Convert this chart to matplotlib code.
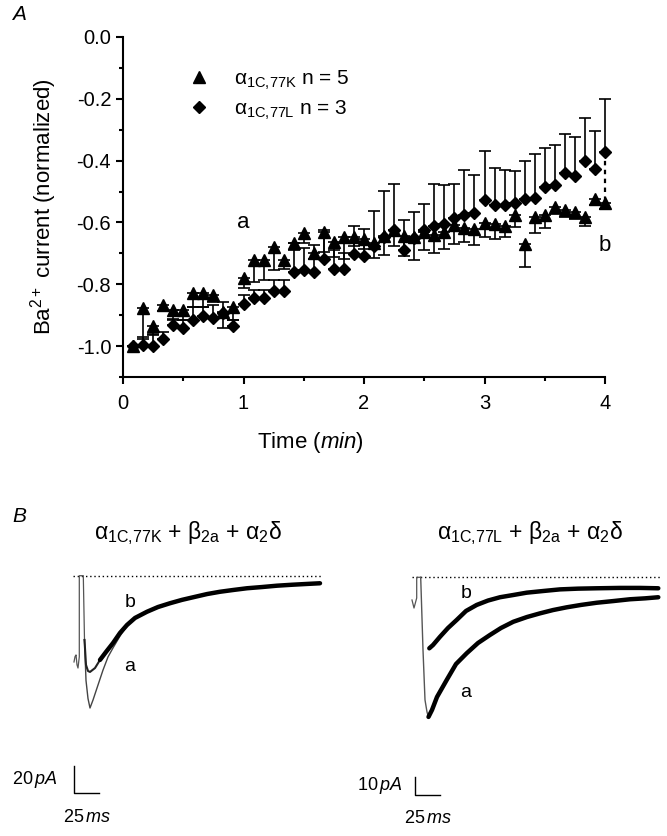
import numpy as np
import matplotlib
matplotlib.use("Agg")
import matplotlib.pyplot as plt
from matplotlib.ticker import MultipleLocator
from matplotlib.lines import Line2D

plt.rcParams['font.family'] = ['Liberation Sans', 'DejaVu Sans']
plt.rcParams['mathtext.fontset'] = 'custom'
plt.rcParams['mathtext.rm'] = 'Liberation Sans'
plt.rcParams['mathtext.it'] = 'Liberation Sans:italic'
plt.rcParams['mathtext.bf'] = 'Liberation Sans:bold'
plt.rcParams['mathtext.default'] = 'regular'

# ---------------- Panel A data ----------------
time_min = [k / 12 for k in range(1, 49)]
cur_77L = [-1.0, -0.997, -1.0, -0.978, -0.932, -0.94, -0.914, -0.903, -0.91, -0.894,
           -0.935, -0.864, -0.846, -0.846, -0.821, -0.821, -0.759, -0.754, -0.759, -0.719,
           -0.749, -0.749, -0.702, -0.707, -0.676, -0.646, -0.624, -0.69, -0.649, -0.625,
           -0.61, -0.605, -0.585, -0.575, -0.571, -0.526, -0.544, -0.544, -0.536, -0.525,
           -0.522, -0.484, -0.479, -0.441, -0.45, -0.40, -0.428, -0.371]
err_77L = [0.0, 0.025, 0.04, 0.022, 0.02, 0.025, 0.04, 0.028, 0.043, 0.038,
           0.02, 0.03, 0.027, 0.027, 0.035, 0.035, 0.092, 0.07, 0.087, 0.095,
           0.06, 0.05, 0.09, 0.086, 0.114, 0.149, 0.149, 0.097, 0.084, 0.084,
           0.133, 0.126, 0.108, 0.146, 0.124, 0.157, 0.12, 0.115, 0.103, 0.125,
           0.144, 0.124, 0.13, 0.127, 0.127, 0.137, 0.125, 0.17]
cur_77K = [-1.0, -0.878, -0.935, -0.867, -0.884, -0.884, -0.827, -0.827, -0.835, -0.89,
           -0.873, -0.781, -0.722, -0.722, -0.679, -0.722, -0.668, -0.633, -0.698, -0.63,
           -0.662, -0.648, -0.646, -0.655, -0.668, -0.645, -0.624, -0.644, -0.648, -0.63,
           -0.641, -0.63, -0.608, -0.619, -0.622, -0.601, -0.605, -0.612, -0.576, -0.67,
           -0.581, -0.576, -0.551, -0.56, -0.565, -0.581, -0.525, -0.538]
err_77K = [0.0, 0.1, 0.03, 0.02, 0.03, 0.03, 0.045, 0.047, 0.022, 0.05,
           0.043, 0.03, 0.07, 0.065, 0.075, 0.03, 0.02, 0.035, 0.02, 0.065,
           0.05, 0.07, 0.03, 0.03, 0.046, 0.06, 0.052, 0.065, 0.075, 0.06,
           0.059, 0.057, 0.061, 0.043, 0.051, 0.047, 0.047, 0.036, 0.04, 0.073,
           0.052, 0.043, 0.022, 0.022, 0.025, 0.032, 0.018, 0.02]
label_77K = r'$\alpha_{\mathrm{1C{,}77K}}$ n = 5'
label_77L = r'$\alpha_{\mathrm{1C{,}77L}}$ n = 3'

# ---------------- Panel B data (time in ms, current in pA) ----------------
L_trans_t = [1, 2, 3, 4, 5, 6.3, 6.3, 10.3, 11.5]
L_trans_i = [-63.9, -60, -58.7, -66, -68.4, -60, 0, 0, -47.6]
L_a_t = [11.5, 13, 15, 17, 20, 24, 30, 35, 40, 47, 54, 62]
L_a_i = [-47.6, -77.6, -91, -98, -92.1, -83.2, -69.9, -60.2, -53.5, -44.7, -37.3, -31.3]
L_b_t = [11.5, 13, 15, 17, 22, 27, 33, 40, 47, 54, 62, 74, 85, 97, 109, 120, 134, 147,
         160, 174, 189, 204, 219, 234, 247]
L_b_i = [-47.6, -66.1, -70.6, -71.3, -68.4, -62.4, -56.5, -49.9, -42.4, -36.5, -31.3,
         -26.7, -23.2, -20.4, -17.9, -16, -13.6, -11.9, -10.6, -9.3, -8.4, -7.4, -6.7,
         -6.1, -5.6]
L_base_t = [0, 250]

R_trans_t = [0, 2, 4.7, 4.7, 8.7]
R_trans_i = [-12.4, -16.8, -11.3, 0, 0]
R_a_t = [8.7, 11, 13, 15, 16.5, 20, 25, 34.7, 44, 54.7, 66, 78, 89, 101.3, 115, 128, 141,
         154.7, 169, 184.7, 201, 218, 233, 246.3]
R_a_i = [0, -39.7, -67, -73.6, -76.3, -72.5, -65.4, -56.1, -47.4, -41.5, -35.9, -31.5,
         -27.7, -24.3, -21.7, -19.7, -17.9, -16.4, -15.1, -13.9, -13, -12, -11.5, -10.9]
R_b_t = [8.7, 12, 14, 17.3, 21, 28, 36, 44.7, 54, 64.7, 76, 88, 101, 114.7, 131, 148, 166,
         184.7, 208, 228, 246.3]
R_b_i = [0, -25, -37, -38.8, -37, -32.5, -27.7, -23.3, -18.4, -15.1, -12.7, -10.9, -9.7,
         -8.4, -7.5, -6.6, -6.2, -6, -5.8, -5.8, -6]
R_base_t = [0, 248]

title_L = r'$\alpha_{\mathrm{1C{,}77K}}$ + $\beta_{\mathrm{2a}}$ + $\alpha_{\mathrm{2}}\delta$'
title_R = r'$\alpha_{\mathrm{1C{,}77L}}$ + $\beta_{\mathrm{2a}}$ + $\alpha_{\mathrm{2}}\delta$'

W, H = 667, 836
fig = plt.figure(figsize=(W / 100, H / 100), dpi=100)


def px_axes(x0, y0, x1, y1):
    return fig.add_axes([x0 / W, 1 - y1 / H, (x1 - x0) / W, (y1 - y0) / H])


# ---------------- Panel A ----------------
ax = px_axes(123, 37, 605, 377)
ax.set_xlim(0, 4)
ax.set_ylim(-1.1, 0.0)
for s in ['top', 'right']:
    ax.spines[s].set_visible(False)
for s in ['left', 'bottom']:
    ax.spines[s].set_linewidth(1.5)

zeros = [0.0] * len(time_min)
ax.errorbar(time_min, cur_77K, yerr=[err_77K, zeros], fmt='^', color='black', ms=8,
            capsize=4.5, elinewidth=1.2, capthick=1.2, clip_on=False, zorder=3)
ax.errorbar(time_min, cur_77L, yerr=[zeros, err_77L], fmt='D', color='black', ms=6,
            capsize=4.5, elinewidth=1.2, capthick=1.2, clip_on=False, zorder=4)
ax.plot([time_min[-1], time_min[-1]], [cur_77L[-1], cur_77K[-1]], color='black',
        lw=1.6, ls=(0, (2, 2)), zorder=2, clip_on=False)

ax.xaxis.set_major_locator(MultipleLocator(1))
ax.xaxis.set_minor_locator(MultipleLocator(0.5))
ax.yaxis.set_minor_locator(MultipleLocator(0.1))
ax.set_yticks([0.0, -0.2, -0.4, -0.6, -0.8, -1.0])
ax.set_yticklabels(['0.0', '-0.2', '-0.4', '-0.6', '-0.8', '-1.0'])
ax.tick_params(which='major', direction='out', length=5, width=1.5, labelsize=14.5)
ax.tick_params(axis='x', which='major', pad=7)
ax.tick_params(which='minor', direction='out', length=3, width=1.5)
ax.set_xlabel(r'Time ($\mathit{min}$)', fontsize=16)
ax.xaxis.set_label_coords((310 - 123) / (605 - 123), -0.155)
ax.set_ylabel(r'Ba$^{2+}$ current (normalized)', fontsize=16, labelpad=13)

handles = [Line2D([], [], marker='^', ls='none', color='black', ms=8.5),
           Line2D([], [], marker='D', ls='none', color='black', ms=6.5)]
ax.legend(handles, [label_77K, label_77L], loc='upper left',
          bbox_to_anchor=(180 / W, 1 - 60 / H), bbox_transform=fig.transFigure,
          frameon=False, fontsize=15, handlelength=1.0, handletextpad=1.2,
          labelspacing=0.35, borderaxespad=0)

ax.text(1.0, -0.60, 'a', fontsize=16, ha='center', va='center')
ax.text(4.0, -0.675, 'b', fontsize=16, ha='center', va='center')

fig.text(12 / W, 1 - 14 / H, 'A', fontsize=15, style='italic', va='center')
fig.text(12 / W, 1 - 517 / H, 'B', fontsize=15, style='italic', va='center')

# ---------------- Panel B ----------------
fig.text(188 / W, 1 - 533 / H, title_L, fontsize=16.5, ha='center', va='center')
fig.text(530 / W, 1 - 533 / H, title_R, fontsize=16.5, ha='center', va='center')

# left traces: 1 px per ms, 1.35 px per pA; origin at (73, 575.7)
axL = px_axes(0, 560, 333, 836)
axL.set_xlim(0 - 73, 333 - 73)
axL.set_ylim((575.7 - 836) / 1.35, (575.7 - 560) / 1.35)
axL.axis('off')
axL.plot(L_base_t, [0, 0], color='black', lw=1, ls=(0, (1, 2)))
axL.plot(L_trans_t, L_trans_i, color='#555555', lw=0.9)
axL.plot(L_a_t, L_a_i, color='#444444', lw=1.0)
axL.plot(L_b_t[:6], L_b_i[:6], color='#222222', lw=1.5, solid_joinstyle='round')
axL.plot(L_b_t[5:], L_b_i[5:], color='black', lw=3.2, solid_joinstyle='round',
         solid_capstyle='round')
axL.text(57, -19.5, 'b', fontsize=14, ha='center', va='center')
axL.text(57, -67.4, 'a', fontsize=14, ha='center', va='center')
# scale bars: 25 ms, 20 pA
axL.plot([1, 1, 26], [-141, -161, -161], color='black', lw=1)
axL.text(-15, -151, r'20$\,\mathit{pA}$', fontsize=13, ha='right', va='center')
axL.text(14, -179, r'25$\,\mathit{ms}$', fontsize=13, ha='center', va='center')

# right traces: 1 px per ms, 1.83 px per pA; origin at (412, 577.3)
axR = px_axes(334, 560, 667, 836)
axR.set_xlim(334 - 412, 667 - 412)
axR.set_ylim((577.3 - 836) / 1.83, (577.3 - 560) / 1.83)
axR.axis('off')
axR.plot(R_base_t, [0, 0], color='black', lw=1, ls=(0, (1, 2)))
axR.plot(R_trans_t, R_trans_i, color='#555555', lw=0.9)
axR.plot(R_a_t[:5], R_a_i[:5], color='#555555', lw=1.0)
axR.plot(R_a_t[4:], R_a_i[4:], color='black', lw=3.2, solid_joinstyle='round',
         solid_capstyle='round')
axR.plot(R_b_t[3:], R_b_i[3:], color='black', lw=3.2, solid_joinstyle='round',
         solid_capstyle='round')
axR.text(54, -8.7, 'b', fontsize=14, ha='center', va='center')
axR.text(54, -63.2, 'a', fontsize=14, ha='center', va='center')
axR.plot([3, 3, 28], [-109, -119, -119], color='black', lw=1)
axR.text(-9, -114, r'10$\,\mathit{pA}$', fontsize=13, ha='right', va='center')
axR.text(16, -132, r'25$\,\mathit{ms}$', fontsize=13, ha='center', va='center')

fig.savefig('out.png', dpi=100)
